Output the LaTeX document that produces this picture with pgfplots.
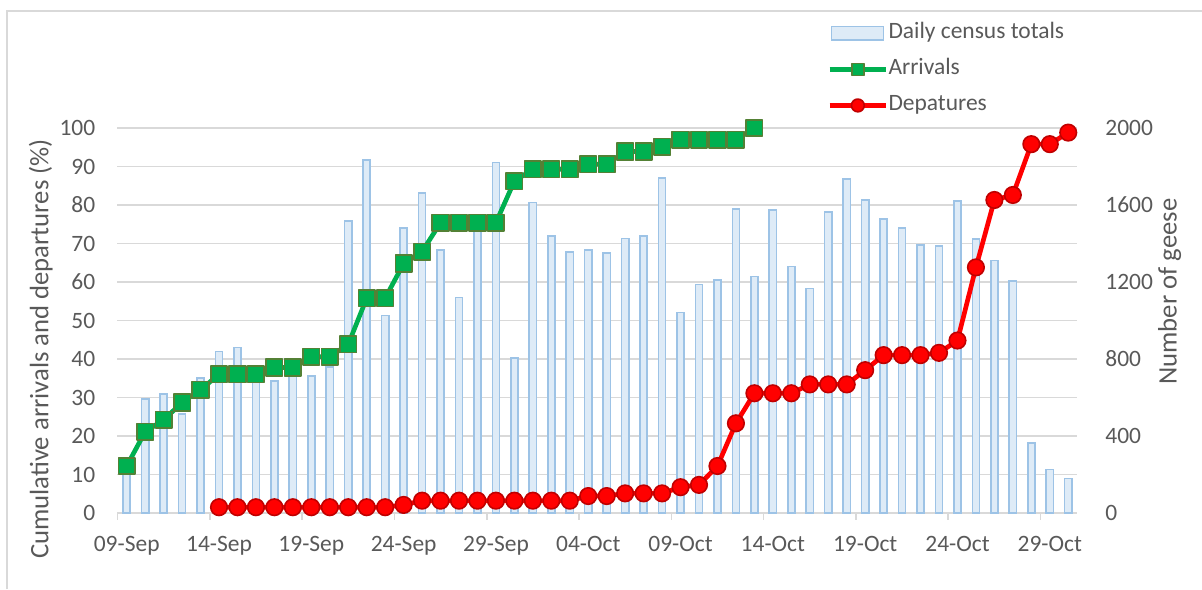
\documentclass[border=0pt]{standalone}
\usepackage{fontspec}
\setmainfont{Carlito}
\usepackage{pgfplots}
\pgfplotsset{compat=1.18}

\definecolor{txt}{HTML}{595959}
\definecolor{gridc}{HTML}{D9D9D9}
\definecolor{barfill}{HTML}{DEEBF7}
\definecolor{barline}{HTML}{9DC3E6}
\definecolor{arrgreen}{HTML}{00B050}
\definecolor{arrborder}{HTML}{538135}
\definecolor{depred}{HTML}{FF0000}
\definecolor{depborder}{HTML}{C00000}

\pgfplotsset{
  geese/.style={
    width=720pt, height=288.75pt, scale only axis,
    xmin=-0.5, xmax=51.5,
    /pgf/number format/assume math mode=true,
    /pgf/number format/1000 sep={},
    scaled y ticks=false,
    tick label style={font=\fontsize{17.6}{20}\selectfont, text=txt},
    label style={font=\fontsize{20}{24}\selectfont, text=txt},
  }
}

\begin{document}
\begin{tikzpicture}
\useasboundingbox (-88.1pt,-57pt) rectangle (813.4pt,384.75pt);

% census bars, right axis
\begin{axis}[geese,
  axis x line*=bottom, axis y line*=right,
  ymin=0, ymax=2000,
  ytick={0,400,...,2000}, minor ytick={200,600,...,1800},
  ymajorgrids, yminorgrids,
  major grid style={draw=gridc, line width=1.2pt},
  minor grid style={draw=gridc, line width=1.2pt},
  y axis line style={draw=none},
  ytick style={draw=none}, minor tick length=0pt,
  x axis line style={draw=gridc, line width=1.2pt},
  xtick={-0.5,4.5,...,49.5},
  xticklabels={09-Sep,14-Sep,19-Sep,24-Sep,29-Sep,04-Oct,09-Oct,14-Oct,19-Oct,24-Oct,29-Oct},
  xtick style={draw=gridc, line width=1.2pt},
  tick align=outside, major tick length=5pt,
  xticklabel style={anchor=base, inner sep=0pt, xshift=6.94pt, yshift=-24pt},
  yticklabel style={anchor=west, inner sep=0pt, xshift=15.75pt},
  ylabel={Number of geese},
  ylabel style={at={(axis description cs:1.096,0.575)}, anchor=center},
]
\addplot[ybar, bar width=5.4pt, fill=barfill, draw=barline, line width=1.2pt] coordinates {
(0,240)(1,592)(2,618)(3,513)(4,700)(5,838)(6,859)(7,740)(8,686)(9,790)
(10,713)(11,760)(12,1518)(13,1834)(14,1025)(15,1479)(16,1661)(17,1366)(18,1119)(19,1500)
(20,1820)(21,804)(22,1612)(23,1439)(24,1357)(25,1366)(26,1352)(27,1427)(28,1439)(29,1739)
(30,1041)(31,1188)(32,1210)(33,1579)(34,1228)(35,1574)(36,1280)(37,1167)(38,1565)(39,1734)
(40,1626)(41,1527)(42,1479)(43,1392)(44,1387)(45,1621)(46,1422)(47,1311)(48,1205)(49,365)
(50,227)(51,180)};
\end{axis}

% cumulative lines, left axis
\begin{axis}[geese,
  axis y line*=left, hide x axis, clip=false,
  ymin=0, ymax=100, ytick={0,10,...,100},
  y axis line style={draw=none}, ytick style={draw=none},
  yticklabel style={anchor=east, inner sep=0pt, xshift=-16.5pt},
  ylabel={Cumulative arrivals and departures (\%)},
  ylabel style={at={(axis description cs:-0.080,0.426)}, anchor=center},
  legend cell align=left,
  legend style={at={(axis description cs:0.739,1.274)}, anchor=north west,
    draw=none, fill=none, inner sep=0pt, row sep=11pt, column sep=0pt,
    font=\fontsize{17.6}{20}\selectfont, text=txt,
    nodes={inner sep=0pt, text height=12pt, text depth=4pt}},
]
\addlegendimage{legend image code/.code={\draw[fill=barfill, draw=barline, line width=1pt] (1.5pt,-5pt) rectangle (40.5pt,5pt);}}
\addlegendentry{Daily census totals}

\addplot[arrgreen, line width=3.5pt, line join=round, mark=square*, mark size=6.2pt,
  mark options={fill=arrgreen, draw=arrborder, line width=1.2pt},
  legend image code/.code={\draw[arrgreen, line width=3.5pt, mark=square*, mark size=4.5pt,
    mark options={fill=arrgreen, draw=arrborder, line width=1.2pt}, mark repeat=2, mark phase=2]
    plot coordinates {(0pt,0pt)(21.25pt,0pt)(42.5pt,0pt)};}]
coordinates {
(0,12.2)(1,21.1)(2,24.2)(3,28.7)(4,32)(5,36)(6,36)(7,36)(8,37.8)(9,37.8)
(10,40.6)(11,40.6)(12,43.8)(13,55.8)(14,55.8)(15,64.8)(16,67.9)(17,75.4)(18,75.4)(19,75.4)
(20,75.4)(21,86.2)(22,89.3)(23,89.3)(24,89.3)(25,90.6)(26,90.6)(27,93.9)(28,93.9)(29,95.1)
(30,96.9)(31,96.9)(32,96.9)(33,96.9)(34,100)};
\addlegendentry{Arrivals}

\addplot[depred, line width=3.5pt, line join=round, mark=*, mark size=6.2pt,
  mark options={fill=depred, draw=depborder, line width=1.2pt},
  legend image code/.code={\draw[depred, line width=3.5pt, mark=*, mark size=4.8pt,
    mark options={fill=depred, draw=depborder, line width=1.2pt}, mark repeat=2, mark phase=2]
    plot coordinates {(0pt,0pt)(21.25pt,0pt)(42.5pt,0pt)};}]
coordinates {
(5,1.5)(6,1.5)(7,1.5)(8,1.5)(9,1.5)(10,1.5)(11,1.5)(12,1.5)(13,1.5)(14,1.5)
(15,2.1)(16,3.2)(17,3.2)(18,3.2)(19,3.2)(20,3.2)(21,3.2)(22,3.2)(23,3.2)(24,3.2)
(25,4.4)(26,4.4)(27,5.1)(28,5.1)(29,5.1)(30,6.7)(31,7.3)(32,12.2)(33,23.3)(34,31.1)
(35,31.1)(36,31.1)(37,33.4)(38,33.4)(39,33.4)(40,37.1)(41,41.0)(42,41.0)(43,41.0)(44,41.6)
(45,44.8)(46,63.8)(47,81.3)(48,82.6)(49,95.8)(50,95.8)(51,98.8)};
\addlegendentry{Depatures}
\end{axis}

% chart area border (left and top edges visible)
\draw[gridc, line width=1.5pt] (-83.1pt,-57pt) -- (-83.1pt,376.5pt) -- (813.4pt,376.5pt);
\end{tikzpicture}
\end{document}
